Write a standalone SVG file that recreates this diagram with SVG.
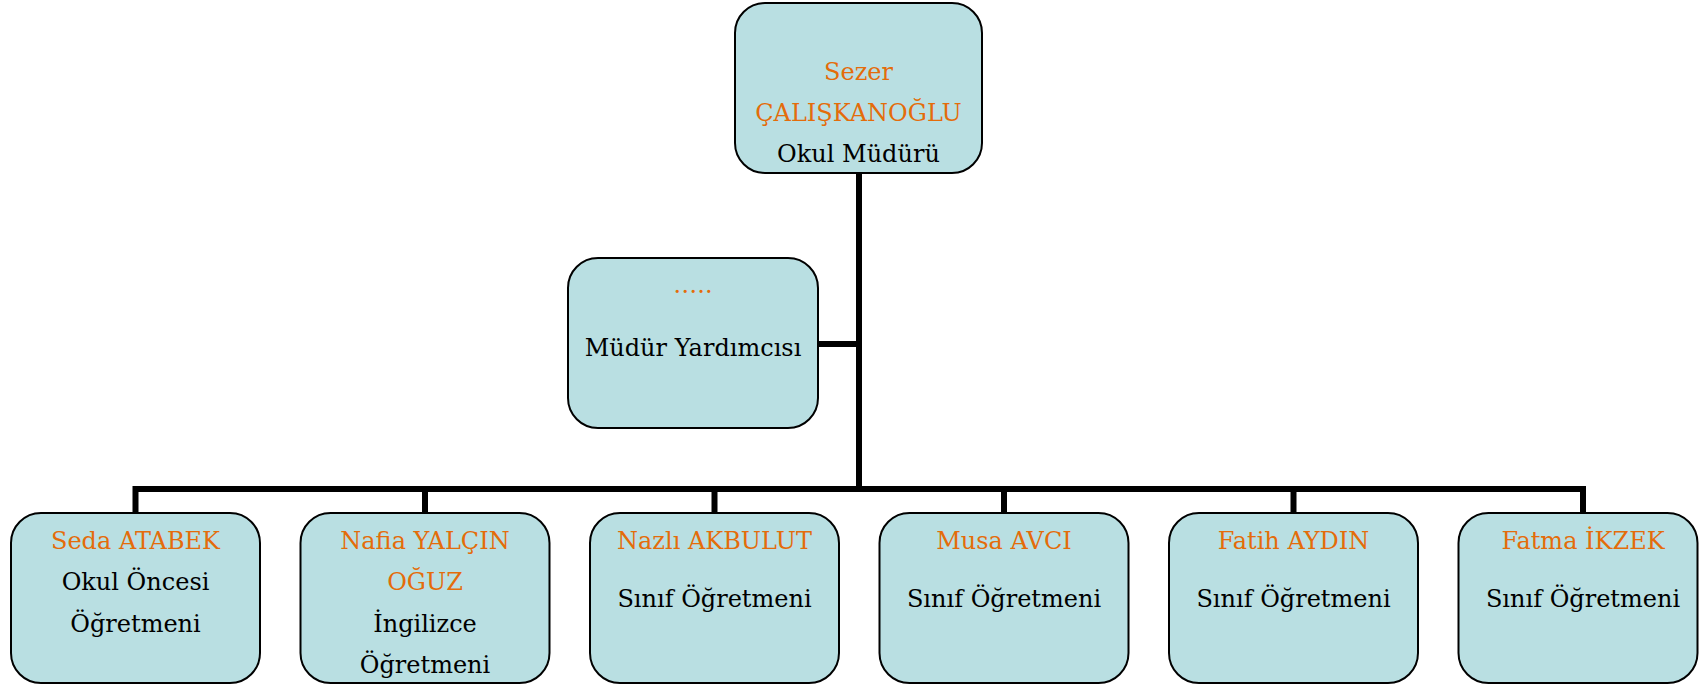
<svg xmlns="http://www.w3.org/2000/svg" width="1699" height="685" viewBox="0 0 1699 685">
<style>
.box{fill:#B9DFE2;stroke:#000;stroke-width:2}
.t{font-family:"DejaVu Serif","Liberation Serif",serif;font-size:24px;text-anchor:middle;fill:#000}
.o{fill:#E46C0A}
.c{fill:none;stroke:#000;stroke-width:6;stroke-linejoin:miter;stroke-linecap:butt}
</style>
<rect width="1699" height="685" fill="#fff"/>
<g id="connectors">
<path class="c" d="M859 173 V489"/>
<path class="c" d="M818 344 H859"/>
<path class="c" d="M135.5 513 V489 H1583 V513"/>
<path class="c" d="M425 489 V513 M714.5 489 V513 M1004 489 V513 M1293.5 489 V513"/>
</g>
<g id="n-mudur">
<rect class="box" x="735" y="3" width="247" height="170" rx="30"/>
<text class="t o" x="858.5" y="80">Sezer</text>
<text class="t o" x="858.5" y="121">ÇALIŞKANOĞLU</text>
<text class="t" x="858.5" y="162">Okul Müdürü</text>
</g>
<g id="n-yardimci">
<rect class="box" x="568" y="258" width="250" height="170" rx="30"/>
<text class="t o" x="693" y="293">…..</text>
<text class="t" x="693" y="356">Müdür Yardımcısı</text>
</g>
<g id="n-seda">
<rect class="box" x="11" y="513" width="249" height="170" rx="30"/>
<text class="t o" x="135.5" y="549">Seda ATABEK</text>
<text class="t" x="135.5" y="590">Okul Öncesi</text>
<text class="t" x="135.5" y="631.5">Öğretmeni</text>
</g>
<g id="n-nafia">
<rect class="box" x="300.5" y="513" width="249" height="170" rx="30"/>
<text class="t o" x="425" y="549">Nafia YALÇIN</text>
<text class="t o" x="425" y="590">OĞUZ</text>
<text class="t" x="425" y="631.5">İngilizce</text>
<text class="t" x="425" y="672.5">Öğretmeni</text>
</g>
<g id="n-nazli">
<rect class="box" x="590" y="513" width="249" height="170" rx="30"/>
<text class="t o" x="714.5" y="549">Nazlı AKBULUT</text>
<text class="t" x="714.5" y="606.5">Sınıf Öğretmeni</text>
</g>
<g id="n-musa">
<rect class="box" x="879.5" y="513" width="249" height="170" rx="30"/>
<text class="t o" x="1004" y="549">Musa AVCI</text>
<text class="t" x="1004" y="606.5">Sınıf Öğretmeni</text>
</g>
<g id="n-fatih">
<rect class="box" x="1169" y="513" width="249" height="170" rx="30"/>
<text class="t o" x="1293.5" y="549">Fatih AYDIN</text>
<text class="t" x="1293.5" y="606.5">Sınıf Öğretmeni</text>
</g>
<g id="n-fatma">
<rect class="box" x="1458.5" y="513" width="239" height="170" rx="30"/>
<text class="t o" x="1583" y="549">Fatma İKZEK</text>
<text class="t" x="1583" y="606.5">Sınıf Öğretmeni</text>
</g>
</svg>
